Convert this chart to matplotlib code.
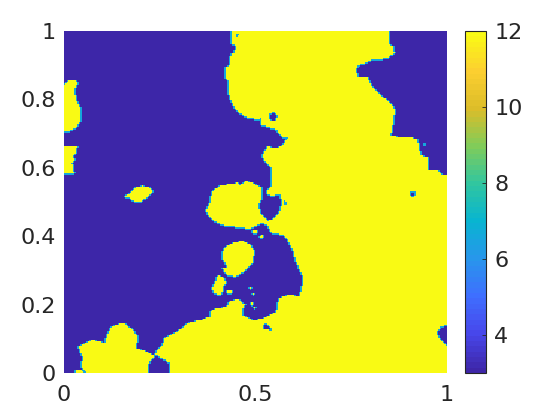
import numpy as np
import matplotlib
matplotlib.use("Agg")
import matplotlib.pyplot as plt
from matplotlib.colors import LinearSegmentedColormap
from matplotlib.path import Path

# Map, in map cells: column 0-383 left to right, row 0-342 top to bottom
low_value = 3.0
high_value = 12.0
edge_value = 6.6
colorbar_ticks = [4, 6, 8, 10, 12]
x_ticks = [0, 0.5, 1]
y_ticks = [0, 0.2, 0.4, 0.6, 0.8, 1]
x_tick_labels = ["0", "0.5", "1"]
y_tick_labels = ["0", "0.2", "0.4", "0.6", "0.8", "1"]

parula_anchors = [
    (0.2422, 0.1504, 0.6603), (0.2803, 0.2782, 0.9221), (0.2440, 0.4358, 0.9988),
    (0.1540, 0.5902, 0.9218), (0.0297, 0.7082, 0.8163), (0.1938, 0.7758, 0.6251),
    (0.5044, 0.7993, 0.3480), (0.8634, 0.7406, 0.1596), (0.9892, 0.8136, 0.1885),
    (0.9769, 0.9839, 0.0805),
]

main_region = [
    (168,-2),(168,7),(167,12),(173,16),(171,21),(167,24),(166,34),(161,37),(161,46),(164,49),
    (164,61),(168,72),(173,80),(181,86),(191,88),(194,89),(198,87),(198,94),(204,96),(213,99),
    (218,106),(224,107),(219,115),(214,117),(204,116),(201,121),(198,126),(203,132),(208,137),
    (208,156),(203,159),(203,163),(208,165),(216,163),(219,171),(216,181),(208,189),(204,190),
    (196,182),(194,174),(198,167),(198,157),(183,150),(176,154),(173,152),(156,155),(148,161),
    (146,172),(142,181),(148,189),(159,194),(173,196),(186,198),(198,192),(204,194),(208,202),
    (219,204),(224,209),(229,219),(233,232),(239,246),(239,254),(236,265),(231,265),(226,264),
    (216,267),(214,274),(213,281),(201,287),(189,290),(178,284),(178,279),(181,274),(173,268),
    (166,271),(163,276),(148,279),(146,286),(138,289),(124,292),(119,297),(108,304),(101,307),
    (99,314),(91,323),(106,332),(106,345),(385,345),(385,316),(383,316),(379,312),(374,307),
    (372,302),(376,296),(383,294),(385,294),(385,144),(378,144),(373,140),(364,139),(364,127),
    (356,124),(353,109),(348,107),(334,106),(326,105),(328,99),(329,87),(331,79),(326,72),
    (318,66),(308,56),(303,47),(294,46),(291,39),(294,35),(308,29),(324,27),(330,22),(329,16),
    (324,12),(325,-2),
]
lower_left_region = [
    (84,345),(83,334),(91,325),(81,320),(71,317),(74,307),(69,299),(59,292),(48,296),(44,304),
    (41,312),(29,309),(15,316),(19,327),(18,337),(23,341),(24,345),
]
corner_sliver = [(10,345),(13,338),(19,340),(22,345)]
west_upper = [
    (-2,54),(0,54),(6,49),(10,49),(14,53),(11,57),(11,64),(13,72),(16,77),(16,91),(12,97),
    (4,101),(0,100),(-2,100),
]
west_lower = [
    (-2,116),(13,115),(12,122),(9,126),(11,129),(8,132),(10,142),(1,143),(-2,142),
]
small_oval = [
    (60,167),(66,162),(71,157),(79,155),(86,157),(89,160),(84,166),(76,171),(69,170),(65,167),
]
center_blob = [
    (158,224),(161,217),(169,212),(178,210),(186,214),(190,221),(189,226),(188,232),(179,241),
    (171,246),(164,244),(161,242),(159,237),(164,236),(159,229),
]
center_islet = [
    (154,245),(158,246),(162,252),(159,256),(157,264),(151,263),(148,259),(151,252),
]
tiny_islet = [(163,259),(167,259),(167,262),(165,263),(163,261)]
high_regions = [main_region, lower_left_region, corner_sliver, west_upper, west_lower,
                small_oval, center_blob, center_islet, tiny_islet]

# (column, row, radius) of tiny spots
high_spots = [(191,201,2.2),(198,206,1.6),(186,257,1.2),(188,273,1.2),(191,277,1.2),(189,263,1)]
low_spots = [(209,86,4.5),(349,163,3.2),(173,4,1.6),(221,172,1.8),(202,296,3),(206,298,1.8)]
edge_spots = [(361,114,1.5)]

n_cols, n_rows = 256, 228
cols = (np.arange(n_cols) + 0.5) * 383 / n_cols
rows = (np.arange(n_rows) + 0.5) * 342 / n_rows
cc, rr = np.meshgrid(cols, rows)
pts = np.column_stack([cc.ravel(), rr.ravel()])

mask = np.zeros(cc.shape, bool)
for poly in high_regions:
    mask |= Path(poly).contains_points(pts).reshape(cc.shape)
for c, r, rad in high_spots:
    mask |= (cc - c) ** 2 + (rr - r) ** 2 <= rad ** 2
for c, r, rad in low_spots:
    mask &= ~((cc - c) ** 2 + (rr - r) ** 2 <= rad ** 2)

# transition cells where the two levels meet
values = np.where(mask, high_value, low_value)
edge = np.zeros(mask.shape, bool)
edge[:, 1:] |= (~mask[:, 1:]) & mask[:, :-1]
edge[:, :-1] |= (~mask[:, :-1]) & mask[:, 1:]
edge[1:, :] |= (~mask[1:, :]) & mask[:-1, :]
values[edge] = edge_value
for c, r, rad in edge_spots:
    values[(cc - c) ** 2 + (rr - r) ** 2 <= rad ** 2] = edge_value

parula = LinearSegmentedColormap.from_list("parula", parula_anchors, N=64)
text_color = "#262626"

fig = plt.figure(figsize=(5.6, 4.2), dpi=100)
ax = fig.add_axes([64 / 560, 47 / 420, 383 / 560, 342 / 420])
im = ax.imshow(values, extent=[0, 1, 0, 1], origin="upper", aspect="auto",
               cmap=parula, vmin=low_value, vmax=high_value, interpolation="nearest")
for s in ax.spines.values():
    s.set_visible(False)
ax.set_xticks(x_ticks)
ax.set_xticklabels(x_tick_labels)
ax.set_yticks(y_ticks)
ax.set_yticklabels(y_tick_labels)
ax.tick_params(length=0, labelsize=16, labelcolor=text_color, pad=6)
ax.tick_params(axis="x", pad=8.5)

cax = fig.add_axes([465 / 560, 47 / 420, 21 / 560, 342 / 420])
cb = fig.colorbar(im, cax=cax)
cb.set_ticks(colorbar_ticks)
cb.ax.tick_params(direction="in", length=3, width=0.6, color=text_color,
                  labelsize=16, labelcolor=text_color, pad=6)
cb.outline.set_edgecolor(text_color)
cb.outline.set_linewidth(0.8)

fig.savefig("out.png", dpi=100)
